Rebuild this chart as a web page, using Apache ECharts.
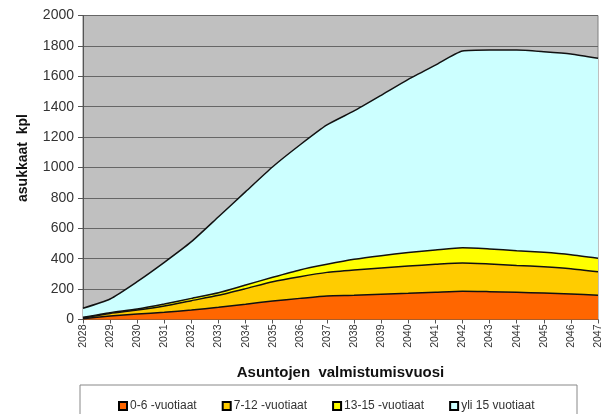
<!DOCTYPE html>
<html>
<head>
<meta charset="utf-8">
<script src="https://cdn.jsdelivr.net/npm/echarts@6/dist/echarts.min.js"></script>
<style>
  html, body { margin: 0; padding: 0; background: #fff; }
  #main { width: 609px; height: 414px; }
</style>
</head>
<body>
<div id="main"></div>
<script>
// vuodet
const years = ['2028','2029','2030','2031','2032','2033','2034','2035','2036','2037',
  '2038','2039','2040','2041','2042','2043','2044','2045','2046','2047']
// ikäryhmät (pinottu)
const age0to6 = [5, 23, 36, 47, 62, 80, 100, 122, 139, 155, 159, 166, 172, 179, 186, 183, 179, 174, 168, 159]
const age7to12 = [5, 17, 26, 42, 62, 79, 103, 127, 143, 155, 167, 173, 180, 184, 186, 182, 177, 173, 166, 155]
const age13to15 = [5, 5, 7, 13, 15, 17, 24, 29, 44, 53, 70, 81, 88, 94, 100, 99, 97, 95, 92, 89]
const over15 = [59, 90, 180, 274, 373, 500, 614, 727, 822, 917, 976, 1055, 1140, 1216, 1294, 1309, 1320, 1320, 1321, 1315]

const names = ['0-6 -vuotiaat', '7-12 -vuotiaat', '13-15 -vuotiaat', 'yli 15 vuotiaat']
const colors = ['#FF6600', '#FFCC00', '#FFFF00', '#CCFFFF']
const font = 'Arial, "Liberation Sans", sans-serif'

const chart = echarts.init(document.getElementById('main'))

const mk = (i, data) => ({
  name: names[i],
  type: 'line',
  stack: 'all',
  data: data,
  smooth: 0.2,
  symbol: 'none',
  lineStyle: { color: '#111', width: 1.5 },
  itemStyle: { color: colors[i], borderColor: '#000', borderWidth: 1 },
  areaStyle: { color: colors[i], opacity: 1 },
  z: 10 - i
})

const option = {
  animation: false,
  textStyle: { fontFamily: font },
  grid: {
    left: 83, right: 11, top: 15.5, bottom: 94.5,
    show: true, backgroundColor: '#C0C0C0', borderColor: '#808080', borderWidth: 1
  },
  xAxis: {
    type: 'category',
    data: years,
    boundaryGap: false,
    name: 'Asuntojen  valmistumisvuosi',
    nameLocation: 'middle',
    nameGap: 46,
    nameTextStyle: { fontSize: 15, fontWeight: 'bold', color: '#111', fontFamily: font },
    axisLine: { lineStyle: { color: '#555', width: 1 } },
    axisTick: { show: true, alignWithLabel: true, length: 4, lineStyle: { color: '#555' } },
    axisLabel: { rotate: 90, fontSize: 10.5, color: '#333', margin: 5, fontFamily: font },
    splitLine: { show: false }
  },
  yAxis: {
    type: 'value',
    min: 0, max: 2000, interval: 200,
    axisLine: { show: true, lineStyle: { color: '#555' } },
    axisTick: { show: true, length: 5, lineStyle: { color: '#555' } },
    axisLabel: { fontSize: 14, color: '#333', margin: 9, fontFamily: font, formatter: v => String(v) },
    splitLine: { show: true, lineStyle: { color: '#666', width: 1.2 } }
  },
  legend: {
    data: names,
    left: 113, top: 395,
    itemWidth: 8, itemHeight: 8, itemGap: 25,
    icon: 'rect',
    textStyle: { fontSize: 12, color: '#333', padding: [0, 0, 0, -2], fontFamily: font }
  },
  graphic: [
    {
      type: 'rect',
      shape: { x: 80, y: 385, width: 497, height: 40 },
      style: { fill: '#fff', stroke: '#888', lineWidth: 1 },
      z: -1
    },
    {
      type: 'text',
      x: 23, y: 158,
      rotation: Math.PI / 2,
      style: {
        text: 'asukkaat  kpl', font: 'bold 14px ' + font, fill: '#111',
        align: 'center', verticalAlign: 'middle'
      }
    }
  ],
  series: [
    mk(0, age0to6),
    mk(1, age7to12),
    mk(2, age13to15),
    mk(3, over15)
  ]
}

option && chart.setOption(option)
</script>
</body>
</html>
